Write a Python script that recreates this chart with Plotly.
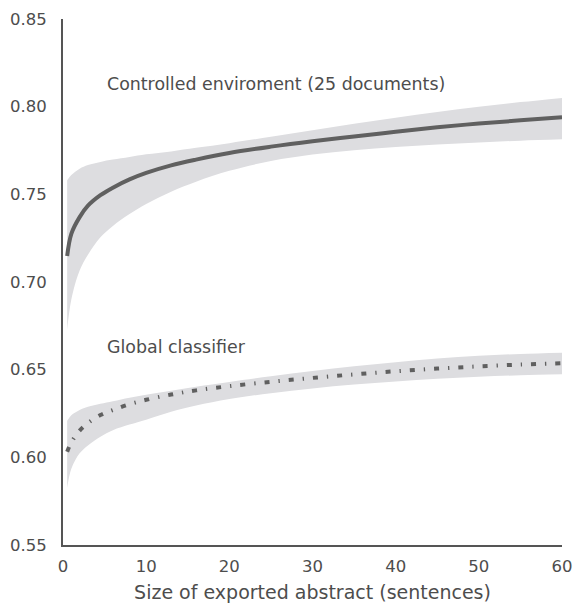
import plotly.graph_objects as go

x = [0.5, 1, 2, 3, 4.5, 6, 8, 10, 13, 16, 20, 25, 30, 35, 40, 45, 50, 55, 60]

ctrl_mean = [0.7148, 0.7275, 0.737, 0.7435, 0.7495, 0.7538, 0.7585, 0.7622, 0.7665, 0.7698,
             0.7736, 0.7772, 0.7803, 0.7830, 0.7857, 0.7882, 0.7904, 0.7922, 0.7939]
ctrl_upper = [0.758, 0.761, 0.7646, 0.7667, 0.7685, 0.7698, 0.7713, 0.7728, 0.7745, 0.7765,
              0.7792, 0.7828, 0.7865, 0.7902, 0.7937, 0.797, 0.800, 0.8026, 0.805]
ctrl_lower = [0.6727, 0.690, 0.7065, 0.7155, 0.7255, 0.732, 0.7388, 0.7445, 0.7515, 0.7572,
              0.7634, 0.7690, 0.7727, 0.7752, 0.777, 0.7784, 0.7796, 0.7806, 0.7814]

glob_mean = [0.6032, 0.6085, 0.6152, 0.6195, 0.6241, 0.627, 0.6303, 0.6328, 0.6358, 0.6382,
             0.6406, 0.6431, 0.6453, 0.6473, 0.6491, 0.6506, 0.6519, 0.6529, 0.6537]
glob_upper = [0.6208, 0.624, 0.627, 0.6288, 0.6305, 0.632, 0.634, 0.6357, 0.638, 0.6403,
              0.643, 0.6462, 0.6492, 0.6519, 0.6543, 0.6563, 0.6579, 0.659, 0.6597]
glob_lower = [0.5825, 0.5935, 0.6023, 0.6068, 0.6118, 0.6155, 0.6187, 0.6215, 0.626, 0.6295,
              0.6332, 0.6366, 0.6393, 0.6415, 0.6433, 0.6448, 0.646, 0.6468, 0.6474]

y_ticks = [0.55, 0.60, 0.65, 0.70, 0.75, 0.80, 0.85]
x_ticks = [0, 10, 20, 30, 40, 50, 60]

band_color = "rgb(221,221,224)"
line_color = "#606060"
text_color = "#4d4d4d"
font_family = "DejaVu Sans"

fig = go.Figure()

def add_band(upper, lower):
    fig.add_trace(go.Scatter(x=x, y=upper, mode="lines", line=dict(width=0, shape="spline"),
                             hoverinfo="skip", showlegend=False))
    fig.add_trace(go.Scatter(x=x, y=lower, mode="lines", line=dict(width=0, shape="spline"),
                             fill="tonexty", fillcolor=band_color, hoverinfo="skip", showlegend=False))

add_band(ctrl_upper, ctrl_lower)
add_band(glob_upper, glob_lower)

fig.add_trace(go.Scatter(x=x, y=ctrl_mean, mode="lines",
                         line=dict(color=line_color, width=4, shape="spline"), showlegend=False))
fig.add_trace(go.Scatter(x=x, y=glob_mean, mode="lines",
                         line=dict(color=line_color, width=4, shape="spline", dash="5px,9px,1.3px,9px"),
                         showlegend=False))

fig.add_annotation(x=5, y=0.813, text="Controlled enviroment (25 documents)", showarrow=False,
                   xanchor="left", yanchor="middle", font=dict(size=17.4, color=text_color, family=font_family))
fig.add_annotation(x=5, y=0.6629, text="Global classifier", showarrow=False,
                   xanchor="left", yanchor="middle", font=dict(size=17.4, color=text_color, family=font_family))

fig.update_layout(
    width=577, height=607,
    margin=dict(l=63, r=15, t=19, b=62, autoexpand=False),
    paper_bgcolor="white", plot_bgcolor="white",
    font=dict(family=font_family, color=text_color),
    showlegend=False,
)
fig.update_xaxes(range=[0, 60], tickvals=x_ticks, ticktext=[str(v) for v in x_ticks],
                 showgrid=False, zeroline=False, showline=True, linecolor="#555555", linewidth=2,
                 ticks="", ticklabelstandoff=5, tickfont=dict(size=16.5, color=text_color),
                 automargin=False,
                 title=dict(text="Size of exported abstract (sentences)", font=dict(size=19, color=text_color),
                            standoff=11))
fig.update_yaxes(range=[0.55, 0.85], tickvals=y_ticks, ticktext=["%.2f" % v for v in y_ticks],
                 showgrid=False, zeroline=False, showline=True, linecolor="#555555", linewidth=2,
                 ticks="", ticklabelstandoff=11, tickfont=dict(size=16.5, color=text_color),
                 automargin=False)

fig.write_html("out.html")
